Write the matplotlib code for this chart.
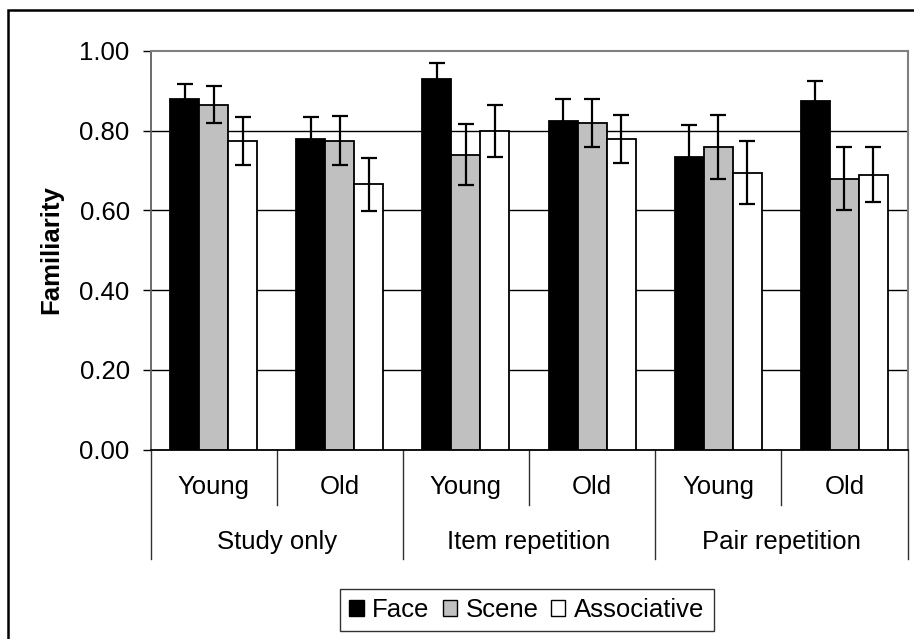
import matplotlib
matplotlib.use("Agg")
import matplotlib.pyplot as plt
from matplotlib.patches import Rectangle, Patch
import numpy as np

plt.rcParams['font.family'] = ['Liberation Sans', 'DejaVu Sans']

conditions = ["Study only", "Item repetition", "Pair repetition"]
ages = ["Young", "Old", "Young", "Old", "Young", "Old"]
series = ["Face", "Scene", "Associative"]
face = [0.88, 0.78, 0.93, 0.825, 0.735, 0.875]
scene = [0.865, 0.775, 0.74, 0.82, 0.76, 0.68]
assoc = [0.775, 0.665, 0.80, 0.78, 0.695, 0.69]
face_err = [0.036, 0.055, 0.039, 0.055, 0.08, 0.05]
scene_err = [0.046, 0.062, 0.076, 0.06, 0.08, 0.08]
assoc_err = [0.06, 0.066, 0.065, 0.06, 0.08, 0.068]
yticks = [0.0, 0.2, 0.4, 0.6, 0.8, 1.0]

FS = 18.5
W, H = 914, 639
fig = plt.figure(figsize=(W / 100, H / 100), dpi=100)
ax = fig.add_axes([150.5 / W, (H - 449.5) / H, 757 / W, 398.5 / H])

x = np.arange(len(ages))
bw = 0.23
colors = ["#000000", "#C0C0C0", "#FFFFFF"]
vals = [face, scene, assoc]
errs = [face_err, scene_err, assoc_err]
for i, (v, e, c, name) in enumerate(zip(vals, errs, colors, series)):
    xs = x + (i - 1) * bw
    ax.bar(xs, v, width=bw, color=c, edgecolor="black", linewidth=1.3, zorder=3, label=name)
    ax.errorbar(xs, v, yerr=e, fmt="none", ecolor="black", elinewidth=1.6,
                capsize=5.8, capthick=1.6, zorder=4)

ax.set_xlim(-0.5, 5.5)
ax.set_ylim(0, 1.0)
ax.set_yticks(yticks)
ax.set_yticklabels([f"{t:.2f}" for t in yticks], fontsize=FS)
ax.tick_params(axis="y", direction="out", length=6, width=1, color="black", pad=9)
ax.set_xticks([])
for yv in yticks[1:-1]:
    ax.axhline(yv, color="black", linewidth=1, zorder=1)

for s in ["top", "right"]:
    ax.spines[s].set_color("#808080")
    ax.spines[s].set_linewidth(1.5)
ax.spines["left"].set_color("#606060")
ax.spines["left"].set_linewidth(1.3)
ax.spines["bottom"].set_color("black")
ax.spines["bottom"].set_linewidth(1.3)

fig.text(51 / W, (H - 250) / H, "Familiarity", rotation=90, ha="center", va="center",
         fontsize=FS, fontweight="bold")

# category axis
tr = ax.get_xaxis_transform()
inner_y = -(505 - 449.5) / 398.5
outer_y = -(559 - 449.5) / 398.5
for b in [0.5, 2.5, 4.5]:
    ax.plot([b, b], [0, inner_y], transform=tr, color="#303030", lw=1, clip_on=False)
for b in [-0.5, 1.5, 3.5, 5.5]:
    ax.plot([b, b], [0, outer_y], transform=tr, color="#303030", lw=1, clip_on=False)
for xi, a in zip(x, ages):
    ax.text(xi, -(486.7 - 449.5) / 398.5, a, transform=tr, ha="center", va="center", fontsize=FS)
for gi, c in enumerate(conditions):
    ax.text(2 * gi + 0.5, -(541.7 - 449.5) / 398.5, c, transform=tr, ha="center", va="center", fontsize=FS)

# legend
handles = [Patch(facecolor=c, edgecolor="black", linewidth=1, label=n) for c, n in zip(colors, series)]
leg = fig.legend(handles=handles, loc="center", bbox_to_anchor=((340 + 714) / 2 / W, (H - 610) / H),
                 ncol=3, fontsize=FS, frameon=True, fancybox=False, handlelength=0.55,
                 handleheight=0.55, handletextpad=0.34, columnspacing=0.5, borderpad=0.35,
                 borderaxespad=0)
leg.get_frame().set_edgecolor("black")
leg.get_frame().set_linewidth(1)

# outer chart frame
fig.patches.append(Rectangle((8 / W, -0.1), 1.2, (H - 9.5) / H + 0.1, transform=fig.transFigure,
                             fill=False, edgecolor="black", linewidth=1.8))

fig.savefig("out.png", dpi=100)
